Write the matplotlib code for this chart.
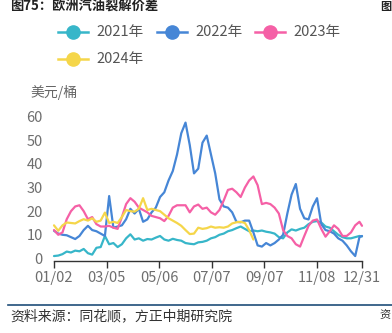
import datetime as dt
import numpy as np
import matplotlib
matplotlib.use("Agg")
import matplotlib.pyplot as plt
from matplotlib.lines import Line2D

plt.rcParams['font.family'] = ['Noto Sans CJK SC', 'DejaVu Sans']

# ---------------- data ----------------
days = list(range(0, 361, 5)) + [363]   # day offset from 01/02

s2021 = [1.0, 1.2, 1.8, 2.9, 2.5, 3.3, 3.0, 4.0, 2.2, 1.6,
         4.5, 4.8, 9.5, 6.0, 6.5, 4.8, 6.0, 8.5, 10.2, 8.0,
         8.5, 7.5, 8.2, 8.0, 8.8, 9.5, 8.0, 7.5, 8.3, 7.8,
         7.5, 6.5, 6.2, 6.0, 6.8, 7.0, 7.5, 8.5, 9.0, 10.0,
         10.5, 11.5, 12.0, 12.8, 13.5, 12.5, 11.5, 11.8, 11.5, 11.8,
         11.3, 11.0, 10.5, 9.0, 8.5, 11.0, 12.3, 11.8, 12.5, 13.0,
         14.5, 15.5, 15.8, 15.2, 13.5, 13.0, 11.5, 10.0, 9.0, 8.5,
         8.5, 9.0, 9.5, 9.3]

s2022 = [11.7, 10.5, 10.0, 9.8, 9.0, 8.2, 9.5, 12.0, 13.8, 12.0,
         11.5, 10.5, 9.5, 26.4, 13.0, 13.5, 14.0, 16.6, 21.0, 19.0,
         21.0, 15.5, 16.5, 19.5, 21.5, 26.0, 28.0, 33.0, 37.0, 44.0,
         53.0, 57.5, 48.0, 36.0, 38.0, 49.0, 52.0, 44.0, 36.0, 25.0,
         22.0, 21.5, 19.5, 15.5, 15.3, 16.0, 16.0, 11.0, 5.5, 5.0,
         6.5, 5.5, 6.5, 8.0, 10.0, 19.0, 27.0, 31.5, 21.0, 17.0,
         16.5, 22.0, 25.5, 14.5, 12.0, 11.5, 10.5, 8.5, 7.5, 5.5,
         3.0, 1.0, 9.0, 9.5]

s2023 = [12.0, 10.0, 11.0, 16.6, 20.0, 22.0, 22.5, 20.0, 16.6, 17.5,
         14.5, 13.5, 13.5, 13.8, 13.0, 12.5, 17.5, 23.0, 25.5, 24.0,
         21.5, 20.5, 19.5, 18.0, 17.5, 17.0, 15.8, 18.0, 21.5, 22.5,
         22.5, 22.5, 19.5, 22.0, 22.8, 21.0, 21.5, 19.5, 18.5, 20.5,
         24.5, 29.0, 29.5, 28.0, 26.0, 30.0, 33.0, 34.7, 31.0, 23.0,
         23.5, 23.0, 21.5, 19.0, 12.0, 9.5, 8.5, 6.0, 5.0, 9.5,
         13.8, 16.0, 16.5, 12.5, 9.2, 11.5, 14.0, 12.5, 9.5, 9.5,
         11.0, 14.0, 15.5, 13.8]

s2024 = [14.0, 11.7, 14.0, 15.2, 15.0, 14.8, 15.8, 16.6, 16.0, 17.0,
         15.5, 16.0, 19.4, 15.0, 15.5, 15.0, 17.5, 20.5, 20.0, 19.8,
         21.0, 25.5, 20.5, 21.0, 20.5, 20.0, 18.5, 17.0, 16.0, 15.0,
         13.8, 12.0, 10.3, 10.5, 13.0, 12.5, 12.8, 13.5, 13.0, 13.2,
         13.0, 13.5, 14.8, 15.3, 15.5, 15.0, 12.0, 8.0]

series_names = ['2021年', '2022年', '2023年', '2024年']
tick_dates = ['01/02', '03/05', '05/06', '07/07', '09/07', '11/08', '12/31']
yticks = [0, 10, 20, 30, 40, 50, 60]

colors = ['#37B6C9', '#4686D6', '#F560A6', '#F5D64A']

# ---------------- figure ----------------
W, H = 392, 333
fig = plt.figure(figsize=(W / 100, H / 100), dpi=100)

def fx(px):
    return px / W

def fy(py):
    return 1 - py / H

ax_l, ax_r, ax_t, ax_b = 54, 362, 116.7, 261
ax = fig.add_axes([fx(ax_l), fy(ax_b), fx(ax_r - ax_l), (ax_b - ax_t) / H])

data = [s2021, s2022, s2023, s2024]
for name, vals, c in zip(series_names, data, colors):
    ax.plot(days[:len(vals)], vals, color=c, lw=1.6, solid_joinstyle='round',
            solid_capstyle='round', label=name, clip_on=False)

base = dt.date(2021, 1, 2)
tick_pos = [(dt.date(2021, int(t[:2]), int(t[3:])) - base).days for t in tick_dates]

ax.set_xlim(0, 363)
ax.set_ylim(-1.1, 60)
ax.set_xticks(tick_pos)
ax.set_xticklabels(tick_dates)
ax.set_yticks(yticks)
for s in ['top', 'right', 'left']:
    ax.spines[s].set_visible(False)
ax.spines['bottom'].set_color('#333333')
ax.spines['bottom'].set_linewidth(1.0)
ax.tick_params(axis='x', length=5, width=1.0, color='#333333',
               labelsize=10.5, labelcolor='#6E6E6E', pad=2)
ax.tick_params(axis='y', length=0, labelsize=10.5, labelcolor='#6E6E6E', pad=8)
ax.set_facecolor('none')

# y unit label
fig.text(fx(30), fy(92.7), '美元/桶', fontsize=10, color='#666666',
         ha='left', va='center')

# legend (manual layout)
legend_pos = [(58, 31.7), (157, 31.7), (255, 31.7), (58, 59)]
for (lx, ly), name, c in zip(legend_pos, series_names, colors):
    fig.add_artist(Line2D([fx(lx), fx(lx + 30)], [fy(ly), fy(ly)],
                          transform=fig.transFigure, color=c, lw=1.8))
    fig.add_artist(Line2D([fx(lx + 15)], [fy(ly)], transform=fig.transFigure,
                          marker='o', markersize=9.5, color=c, lw=0))
    fig.text(fx(lx + 38), fy(ly), name, fontsize=10.5, color='#555555',
             ha='left', va='center')

# title at the top edge
fig.text(fx(10), fy(0), '图75：欧洲汽油裂解价差', fontsize=9.5,
         fontweight='bold', color='#222222', ha='left', va='top')
fig.text(fx(391), fy(0), '图', fontsize=8, fontweight='bold',
         color='#222222', ha='right', va='top')

# separator and source
fig.add_artist(Line2D([fx(8), fx(392)], [fy(305), fy(305)],
                      transform=fig.transFigure, color='#1F4E79', lw=1.2))
fig.text(fx(10), fy(316), '资料来源：同花顺，方正中期研究院', fontsize=10,
         color='#333333', ha='left', va='center')
fig.text(fx(391), fy(316), '资', fontsize=8, color='#333333',
         ha='right', va='center')

fig.savefig('out.png', dpi=100)
